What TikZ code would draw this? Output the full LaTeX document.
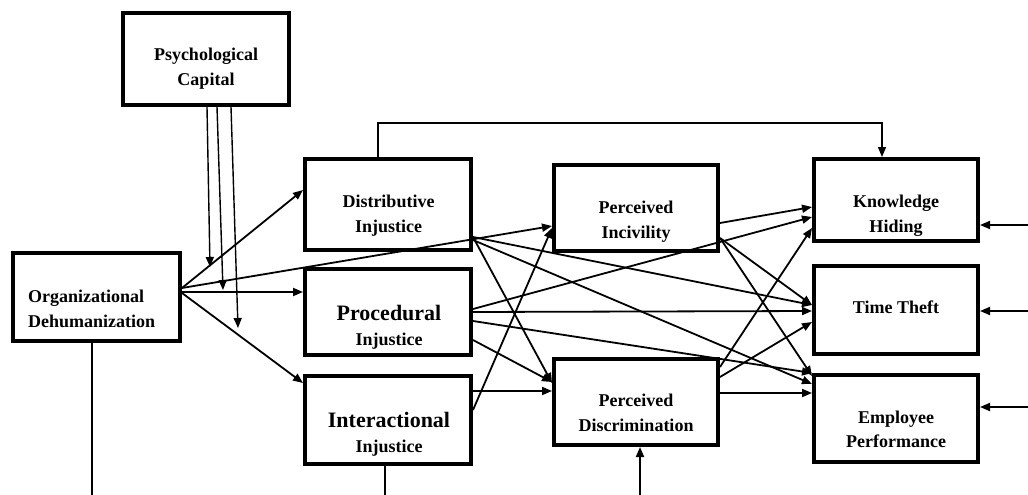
\documentclass[tikz,border=0pt]{standalone}
\usepackage{fontspec}
\setmainfont{Liberation Serif}
\usetikzlibrary{arrows.meta,calc}
\begin{document}
\begin{tikzpicture}[x=1pt,y=-1pt,
  box/.style={draw, line width=4pt, inner sep=0pt},
  lbl/.style={font=\bfseries\fontsize{18}{25}\selectfont, inner sep=0pt, anchor=base},
  biglbl/.style={font=\bfseries\fontsize{22}{26}\selectfont, inner sep=0pt, anchor=base},
  conn/.style={line width=1.8pt, -{Triangle[length=10pt,width=8pt]}},
  thinconn/.style={line width=1.4pt, -{Triangle[length=10pt,width=8pt]}},
  plain/.style={line width=1.8pt},
]
\useasboundingbox (0,0) rectangle (1028,495);
% boxes
\node[box, minimum width=166pt, minimum height=92pt] (pc) at (206,59) {};
\node[box, minimum width=167pt, minimum height=88pt] (od) at (96.5,297) {};
\node[box, minimum width=166pt, minimum height=91pt] (di) at (388,204.5) {};
\node[box, minimum width=166pt, minimum height=86pt] (pj) at (388,312) {};
\node[box, minimum width=166pt, minimum height=88pt] (ij) at (388,420) {};
\node[box, minimum width=164pt, minimum height=86pt] (pi) at (636,208) {};
\node[box, minimum width=164pt, minimum height=86pt] (pd) at (636,402) {};
\node[box, minimum width=164pt, minimum height=82pt] (kh) at (896,200) {};
\node[box, minimum width=164pt, minimum height=88pt] (tt) at (896,310) {};
\node[box, minimum width=164pt, minimum height=87pt] (ep) at (896,418.5) {};
% labels
\node[lbl] (pc1) at (206,61) {Psychological};
\node[lbl] (pc2) at (206,85) {Capital};
\node[lbl, anchor=base west] (od1) at (28,302) {Organizational};
\node[lbl, anchor=base west] (od2) at (28,327) {Dehumanization};
\node[lbl] (di1) at (388.5,207) {Distributive};
\node[lbl] (di2) at (388.5,232) {Injustice};
\node[biglbl] (pj1) at (389,320) {Procedural};
\node[lbl] (pj2) at (389,345) {Injustice};
\node[biglbl] (ij1) at (389,427) {Interactional};
\node[lbl] (ij2) at (389,452) {Injustice};
\node[lbl] (pi1) at (636,213) {Perceived};
\node[lbl] (pi2) at (636,238) {Incivility};
\node[lbl] (pd1) at (636,406) {Perceived};
\node[lbl] (pd2) at (636,431) {Discrimination};
\node[lbl] (kh1) at (896,207) {Knowledge};
\node[lbl] (kh2) at (896,232) {Hiding};
\node[lbl] (tt1) at (896,313) {Time Theft};
\node[lbl] (ep1) at (896,423) {Employee};
\node[lbl] (ep2) at (896,447) {Performance};
% organizational dehumanization outputs
\draw[conn] (od.east |- 0,288) -- (di.west |- 0,190);
\draw[conn] (od.east |- 0,292) -- (pj.west |- 0,292);
\draw[conn] (od.east |- 0,293) -- (ij.west |- 0,383);
\draw[conn] (od.east |- 0,288) -- (pi.west |- 0,226);
% psychological capital moderation
\coordinate (m1) at (210,267);
\coordinate (m2) at (223,290);
\coordinate (m3) at (238,328);
\draw[thinconn] (pc.south -| 207,0) -- (m1);
\draw[thinconn] (pc.south -| 217,0) -- (m2);
\draw[thinconn] (pc.south -| 231,0) -- (m3);
% distributive top path to knowledge hiding
\coordinate (c1) at (378,123);
\coordinate (c2) at (882,123);
\draw[thinconn] (di.north -| c1) -- (c1) -- (c2) -- (kh.north -| c2);
% distributive
\draw[conn] (di.east |- 0,237) -- (tt.west |- 0,305);
\draw[conn] (di.east |- 0,240) -- (ep.west |- 0,384);
\draw[conn] (di.east |- 0,237) -- (pd.west |- 0,383);
% procedural
\draw[conn] (pj.east |- 0,309) -- (kh.west |- 0,217);
\draw[conn] (pj.east |- 0,312) -- (tt.west |- 0,311);
\draw[conn] (pj.east |- 0,321) -- (ep.west |- 0,373);
\draw[conn] (pj.east |- 0,340) -- (pd.west |- 0,382);
% interactional
\draw[conn] (ij.east |- 0,391) -- (pd.west |- 0,391);
\draw[conn] (ij.east |- 0,410) -- (pi.west |- 0,228);
% perceived incivility
\draw[conn] (pi.east |- 0,223) -- (kh.west |- 0,207);
\draw[conn] (pi.east |- 0,238) -- (tt.west |- 0,305);
\draw[conn] (pi.east |- 0,238) -- (ep.west |- 0,376);
% perceived discrimination
\draw[conn] (pd.east |- 0,367) -- (kh.west |- 0,228);
\draw[conn] (pd.east |- 0,377) -- (tt.west |- 0,322);
\draw[conn] (pd.east |- 0,393) -- (ep.west |- 0,393);
% inputs from the right
\coordinate (r1) at (1028,225);
\coordinate (r2) at (1028,311);
\coordinate (r3) at (1028,407);
\draw[conn] (r1) -- (kh.east |- r1);
\draw[conn] (r2) -- (tt.east |- r2);
\draw[conn] (r3) -- (ep.east |- r3);
% lines at the bottom
\coordinate (b1) at (92,495);
\coordinate (b2) at (385,495);
\coordinate (b3) at (640,495);
\draw[plain] (od.south -| b1) -- (b1);
\draw[plain] (ij.south -| b2) -- (b2);
\draw[conn] (b3) -- (pd.south -| b3);
\end{tikzpicture}
\end{document}
